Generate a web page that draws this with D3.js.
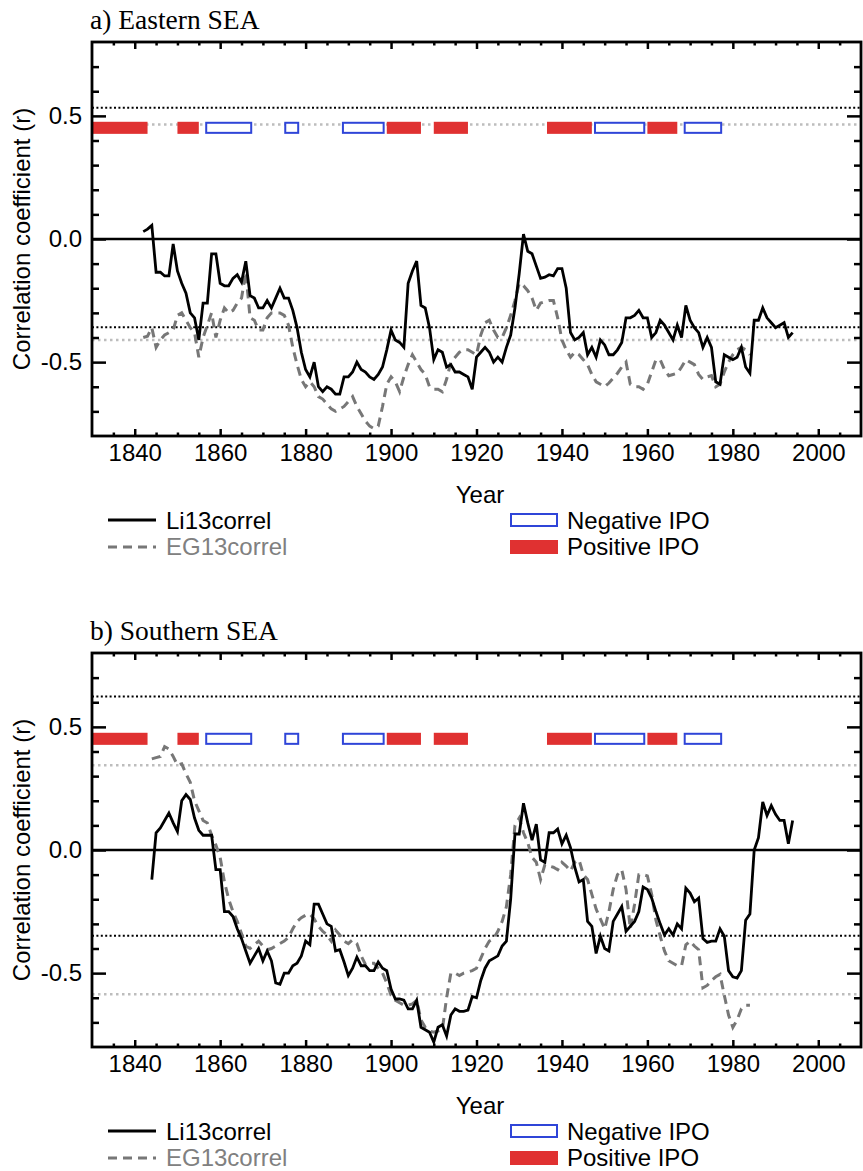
<!DOCTYPE html>
<html>
<head>
<meta charset="utf-8">
<script src="https://cdnjs.cloudflare.com/ajax/libs/d3/7.8.5/d3.min.js"></script>
<style>
body { margin: 0; background: #fff; }
</style>
</head>
<body>
<svg id="chart" width="863" height="1171"></svg>
<script>
/*
Correlation of Li13 / EG13 reconstructions with IPO phases, two panels
*/

// ---- data ----
var xDomain = [1830, 2010];
var yDomain = [-0.8, 0.8];
var xMajorTicks = [1840, 1860, 1880, 1900, 1920, 1940, 1960, 1980, 2000];
var yMajorTicks = [-0.5, 0.0, 0.5];

var panelTitles = ["a) Eastern SEA", "b) Southern SEA"];

// Li13correl, panel a (annual, starts 1842)
var liA_start = 1842;
var liA = [0.03, 0.04, 0.055, -0.135, -0.135, -0.15, -0.15, -0.02, -0.13, -0.18,
  -0.22, -0.30, -0.32, -0.41, -0.26, -0.26, -0.06, -0.06, -0.18, -0.19,
  -0.19, -0.16, -0.145, -0.175, -0.09, -0.23, -0.24, -0.28, -0.28, -0.25,
  -0.28, -0.24, -0.20, -0.24, -0.24, -0.29, -0.36, -0.46, -0.53, -0.56,
  -0.50, -0.60, -0.62, -0.60, -0.61, -0.63, -0.63, -0.56, -0.56, -0.54,
  -0.50, -0.53, -0.54, -0.56, -0.57, -0.55, -0.52, -0.45, -0.37, -0.41,
  -0.42, -0.44, -0.18, -0.13, -0.09, -0.27, -0.28, -0.36, -0.49, -0.45,
  -0.46, -0.52, -0.51, -0.54, -0.54, -0.55, -0.56, -0.61, -0.48, -0.46,
  -0.44, -0.46, -0.50, -0.48, -0.50, -0.44, -0.39, -0.28, -0.14, 0.02,
  -0.05, -0.06, -0.11, -0.16, -0.155, -0.145, -0.15, -0.12, -0.12, -0.20,
  -0.38, -0.41, -0.40, -0.38, -0.47, -0.44, -0.48, -0.41, -0.43, -0.47,
  -0.47, -0.45, -0.42, -0.32, -0.32, -0.31, -0.29, -0.32, -0.32, -0.40,
  -0.38, -0.33, -0.35, -0.38, -0.41, -0.35, -0.40, -0.27, -0.33, -0.36,
  -0.38, -0.44, -0.40, -0.44, -0.58, -0.59, -0.47, -0.48, -0.49, -0.48,
  -0.44, -0.52, -0.545, -0.33, -0.33, -0.28, -0.32, -0.34, -0.36, -0.35,
  -0.34, -0.40, -0.38];

// EG13correl, panel a (annual, starts 1842)
var egA_start = 1842;
var egA = [-0.40, -0.395, -0.36, -0.44, -0.41, -0.39, -0.38, -0.37, -0.31, -0.30,
  -0.33, -0.36, -0.38, -0.48, -0.40, -0.35, -0.30, -0.40, -0.33, -0.28,
  -0.30, -0.29, -0.26, -0.24, -0.135, -0.32, -0.33, -0.37, -0.37, -0.32,
  -0.30, -0.30, -0.30, -0.31, -0.35, -0.44, -0.51, -0.57, -0.60, -0.58,
  -0.60, -0.64, -0.65, -0.67, -0.69, -0.70, -0.69, -0.68, -0.66, -0.64,
  -0.68, -0.71, -0.74, -0.76, -0.77, -0.76, -0.68, -0.59, -0.56, -0.58,
  -0.62, -0.56, -0.51, -0.47, -0.50, -0.53, -0.55, -0.60, -0.61, -0.61,
  -0.62, -0.57, -0.50, -0.48, -0.46, -0.45, -0.45, -0.46, -0.47, -0.39,
  -0.34, -0.33, -0.37, -0.40, -0.40, -0.36, -0.31, -0.25, -0.18, -0.19,
  -0.21, -0.24, -0.29, -0.26, -0.255, -0.25, -0.25, -0.32, -0.41, -0.45,
  -0.48, -0.46, -0.47, -0.49, -0.51, -0.55, -0.58, -0.59, -0.60, -0.585,
  -0.565, -0.545, -0.52, -0.50, -0.59, -0.60, -0.60, -0.61, -0.59, -0.54,
  -0.49, -0.49, -0.53, -0.555, -0.55, -0.545, -0.52, -0.49, -0.50, -0.51,
  -0.55, -0.57, -0.56, -0.555, -0.60, -0.59, -0.54, -0.50, -0.47, -0.45,
  -0.44, -0.45, -0.47];

// Li13correl, panel b (annual, starts 1844)
var liB_start = 1844;
var liB = [-0.12, 0.07, 0.09, 0.12, 0.15, 0.11, 0.075, 0.20, 0.225, 0.205,
  0.13, 0.08, 0.06, 0.06, 0.06, -0.08, -0.08, -0.25, -0.25, -0.27,
  -0.32, -0.36, -0.41, -0.46, -0.43, -0.40, -0.45, -0.41, -0.45, -0.54,
  -0.545, -0.50, -0.50, -0.47, -0.46, -0.43, -0.37, -0.385, -0.22, -0.22,
  -0.26, -0.30, -0.31, -0.41, -0.405, -0.455, -0.51, -0.48, -0.435, -0.47,
  -0.47, -0.49, -0.49, -0.455, -0.48, -0.49, -0.565, -0.605, -0.605, -0.61,
  -0.645, -0.645, -0.61, -0.72, -0.73, -0.74, -0.78, -0.72, -0.71, -0.755,
  -0.67, -0.645, -0.655, -0.655, -0.65, -0.595, -0.60, -0.53, -0.48, -0.45,
  -0.44, -0.43, -0.39, -0.37, -0.20, 0.065, 0.065, 0.19, 0.11, 0.04,
  0.105, -0.04, -0.05, 0.07, 0.07, 0.085, 0.025, 0.06, 0.01, -0.07,
  -0.13, -0.12, -0.29, -0.31, -0.42, -0.35, -0.40, -0.41, -0.29, -0.26,
  -0.23, -0.33, -0.31, -0.29, -0.25, -0.15, -0.16, -0.195, -0.25, -0.30,
  -0.345, -0.32, -0.345, -0.30, -0.32, -0.155, -0.175, -0.21, -0.195, -0.36,
  -0.375, -0.37, -0.37, -0.32, -0.35, -0.49, -0.515, -0.52, -0.49, -0.285,
  -0.26, 0.00, 0.05, 0.195, 0.14, 0.18, 0.145, 0.12, 0.12, 0.025,
  0.12];

// EG13correl, panel b (annual, starts 1844)
var egB_start = 1844;
var egB = [0.37, 0.375, 0.38, 0.42, 0.41, 0.38, 0.345, 0.35, 0.31, 0.275,
  0.20, 0.16, 0.12, 0.11, 0.06, 0.02, -0.03, -0.13, -0.20, -0.25,
  -0.29, -0.34, -0.39, -0.40, -0.385, -0.37, -0.39, -0.405, -0.40, -0.39,
  -0.38, -0.37, -0.355, -0.32, -0.29, -0.275, -0.265, -0.26, -0.28, -0.31,
  -0.33, -0.345, -0.37, -0.325, -0.345, -0.37, -0.38, -0.365, -0.38, -0.43,
  -0.465, -0.46, -0.46, -0.48, -0.50, -0.54, -0.59, -0.61, -0.62, -0.63,
  -0.63, -0.625, -0.61, -0.69, -0.72, -0.735, -0.74, -0.735, -0.73, -0.60,
  -0.50, -0.50, -0.51, -0.50, -0.495, -0.49, -0.48, -0.44, -0.40, -0.37,
  -0.36, -0.33, -0.29, -0.23, -0.10, 0.10, 0.13, 0.07, 0.03, -0.03,
  -0.05, -0.12, -0.06, -0.065, -0.07, -0.08, -0.05, -0.065, -0.085, -0.05,
  -0.04, -0.10, -0.12, -0.18, -0.24, -0.28, -0.32, -0.25, -0.16, -0.10,
  -0.08, -0.16, -0.32, -0.22, -0.10, -0.10, -0.105, -0.18, -0.285, -0.35,
  -0.41, -0.45, -0.46, -0.47, -0.47, -0.385, -0.37, -0.39, -0.405, -0.56,
  -0.55, -0.53, -0.515, -0.505, -0.59, -0.67, -0.72, -0.69, -0.645, -0.63,
  -0.63];

// significance levels (dotted lines): [upper, lower] per panel
var liSignif = [[0.533, -0.358], [0.623, -0.348]];
var egSignif = [[0.465, -0.41], [0.344, -0.586]];

// IPO phases [start year, end year]
var positiveIPO = [[1830, 1843], [1850, 1855], [1899, 1907], [1910, 1918], [1936.5, 1947], [1960, 1967]];
var negativeIPO = [[1856.5, 1867.5], [1875, 1878.5], [1888.5, 1898.5], [1947.5, 1959.5], [1968.5, 1977.5]];
var ipoBand = [0.427, 0.476];

// ---- layout ----
var W = 863, H = 1171;
var plotLeft = 92, plotRight = 861, plotHeight = 394;
var panelTops = [42, 653];
var sans = '"Liberation Sans", Arial, Helvetica, sans-serif';
var serif = '"Liberation Serif", "Times New Roman", serif';
var red = "#e03131", blue = "#2f45d8", grey = "#777777";

var svg = d3.select("#chart");
svg.append("rect").attr("width", W).attr("height", H).attr("fill", "#fff");

var x = d3.scaleLinear().domain(xDomain).range([plotLeft, plotRight]);

var xMinorTicks = d3.range(1835, 2010, 5).filter(function(d){ return xMajorTicks.indexOf(d) < 0; });
var yMinorTicks = d3.range(-7, 8).filter(function(d){ return d % 5 != 0; }).map(function(d){ return d / 10; });

function toSeries(start, vals){
    return vals.map(function(v, i){ return {year: start + i, r: v}; });
}

var panels = [
    {li: toSeries(liA_start, liA), eg: toSeries(egA_start, egA)},
    {li: toSeries(liB_start, liB), eg: toSeries(egB_start, egB)}
];

function styleAxis(g, w){
    g.select(".domain").remove();
    g.selectAll(".tick line").attr("stroke", "#000").attr("stroke-width", w);
    g.selectAll("text").attr("font-family", sans).attr("font-size", 24).attr("fill", "#000");
}

function drawPanel(p, k){
    var top = panelTops[k], bottom = top + plotHeight;
    var y = d3.scaleLinear().domain(yDomain).range([bottom, top]);
    var g = svg.append("g");

    // title
    g.append("text")
        .attr("x", 90).attr("y", top - 13)
        .attr("font-family", serif).attr("font-size", 27.5)
        .text(panelTitles[k]);

    // significance lines
    egSignif[k].forEach(function(v){
        g.append("line")
            .attr("x1", plotLeft).attr("x2", plotRight)
            .attr("y1", y(v)).attr("y2", y(v))
            .attr("stroke", "#bdbdbd").attr("stroke-width", 2.5)
            .attr("stroke-dasharray", "2.5,3.5");
    });
    liSignif[k].forEach(function(v){
        g.append("line")
            .attr("x1", plotLeft).attr("x2", plotRight)
            .attr("y1", y(v)).attr("y2", y(v))
            .attr("stroke", "#000").attr("stroke-width", 2)
            .attr("stroke-dasharray", "2,2.4");
    });

    // zero line
    g.append("line")
        .attr("x1", plotLeft).attr("x2", plotRight)
        .attr("y1", y(0)).attr("y2", y(0))
        .attr("stroke", "#000").attr("stroke-width", 2.5);

    // IPO bars
    g.selectAll(".pos").data(positiveIPO).enter().append("rect")
        .attr("x", function(d){ return x(d[0]); })
        .attr("width", function(d){ return x(d[1]) - x(d[0]); })
        .attr("y", y(ipoBand[1]))
        .attr("height", y(ipoBand[0]) - y(ipoBand[1]))
        .attr("fill", red);
    g.selectAll(".neg").data(negativeIPO).enter().append("rect")
        .attr("x", function(d){ return x(d[0]) + 1; })
        .attr("width", function(d){ return x(d[1]) - x(d[0]) - 2; })
        .attr("y", y(ipoBand[1]) + 1)
        .attr("height", y(ipoBand[0]) - y(ipoBand[1]) - 2)
        .attr("fill", "#fff").attr("stroke", blue).attr("stroke-width", 2);

    // curves
    var line = d3.line()
        .x(function(d){ return x(d.year); })
        .y(function(d){ return y(d.r); });

    g.append("path").datum(p.eg)
        .attr("d", line).attr("fill", "none")
        .attr("stroke", grey).attr("stroke-width", 3)
        .attr("stroke-dasharray", "9,6");
    g.append("path").datum(p.li)
        .attr("d", line).attr("fill", "none")
        .attr("stroke", "#000").attr("stroke-width", 2.8)
        .attr("stroke-linejoin", "miter");

    // axes (ticks pointing inward)
    var gb = g.append("g").attr("transform", "translate(0," + bottom + ")")
        .call(d3.axisBottom(x).tickValues(xMajorTicks).tickSize(-7).tickPadding(8).tickFormat(d3.format("d")));
    styleAxis(gb, 2.5);
    var gbm = g.append("g").attr("transform", "translate(0," + bottom + ")")
        .call(d3.axisBottom(x).tickValues(xMinorTicks).tickSize(-3.5).tickFormat(""));
    styleAxis(gbm, 2.5);
    var gt = g.append("g").attr("transform", "translate(0," + top + ")")
        .call(d3.axisTop(x).tickValues(xMajorTicks).tickSize(-7).tickFormat(""));
    styleAxis(gt, 2.5);
    var gtm = g.append("g").attr("transform", "translate(0," + top + ")")
        .call(d3.axisTop(x).tickValues(xMinorTicks).tickSize(-3.5).tickFormat(""));
    styleAxis(gtm, 2.5);

    var gl = g.append("g").attr("transform", "translate(" + plotLeft + ",0)")
        .call(d3.axisLeft(y).tickValues(yMajorTicks).tickSize(-14).tickPadding(10)
            .tickFormat(function(d){ return d.toFixed(1); }));
    styleAxis(gl, 2.5);
    var glm = g.append("g").attr("transform", "translate(" + plotLeft + ",0)")
        .call(d3.axisLeft(y).tickValues(yMinorTicks).tickSize(-7).tickFormat(""));
    styleAxis(glm, 2.5);
    var gr = g.append("g").attr("transform", "translate(" + plotRight + ",0)")
        .call(d3.axisRight(y).tickValues(yMajorTicks).tickSize(-14).tickFormat(""));
    styleAxis(gr, 2.5);
    var grm = g.append("g").attr("transform", "translate(" + plotRight + ",0)")
        .call(d3.axisRight(y).tickValues(yMinorTicks).tickSize(-7).tickFormat(""));
    styleAxis(grm, 2.5);

    // frame
    g.append("rect")
        .attr("x", plotLeft).attr("y", top)
        .attr("width", plotRight - plotLeft).attr("height", plotHeight)
        .attr("fill", "none").attr("stroke", "#000").attr("stroke-width", 2.8);

    // axis titles
    g.append("text")
        .attr("transform", "translate(30," + (top + plotHeight / 2) + ") rotate(-90)")
        .attr("text-anchor", "middle")
        .attr("font-family", sans).attr("font-size", 24)
        .text("Correlation coefficient (r)");
    g.append("text")
        .attr("x", 480).attr("y", bottom + 67)
        .attr("text-anchor", "middle")
        .attr("font-family", sans).attr("font-size", 24)
        .text("Year");

    // legend
    var r1 = bottom + 84, r2 = bottom + 111;
    g.append("line").attr("x1", 108).attr("x2", 156).attr("y1", r1).attr("y2", r1)
        .attr("stroke", "#000").attr("stroke-width", 2.8);
    g.append("text").attr("x", 166).attr("y", r1 + 8.5)
        .attr("font-family", sans).attr("font-size", 24).text("Li13correl");
    g.append("line").attr("x1", 108).attr("x2", 156).attr("y1", r2).attr("y2", r2)
        .attr("stroke", grey).attr("stroke-width", 3).attr("stroke-dasharray", "9,6");
    g.append("text").attr("x", 166).attr("y", r2 + 8)
        .attr("font-family", sans).attr("font-size", 24).attr("fill", "#808080").text("EG13correl");

    g.append("rect").attr("x", 511).attr("y", r1 - 6).attr("width", 46).attr("height", 12)
        .attr("fill", "#fff").attr("stroke", blue).attr("stroke-width", 2);
    g.append("text").attr("x", 567).attr("y", r1 + 8.5)
        .attr("font-family", sans).attr("font-size", 24).text("Negative IPO");
    g.append("rect").attr("x", 510).attr("y", r2 - 7).attr("width", 48).attr("height", 14)
        .attr("fill", red);
    g.append("text").attr("x", 567).attr("y", r2 + 8)
        .attr("font-family", sans).attr("font-size", 24).text("Positive IPO");
}

panels.forEach(drawPanel);
</script>
</body>
</html>
